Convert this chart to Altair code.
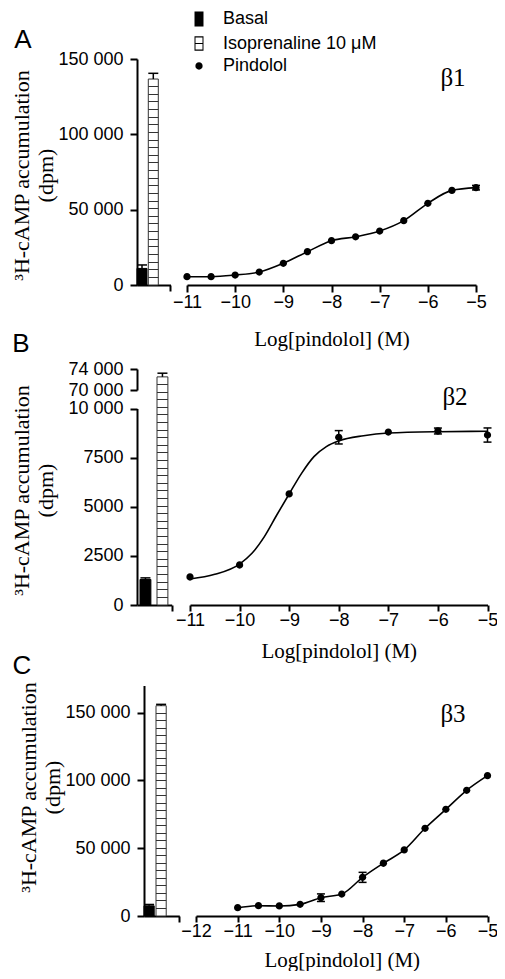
import altair as alt
import numpy as np
import pandas as pd

# ---------------- values ----------------
BAR_CATS = ["Basal", "Isoprenaline 10 μM"]
LEGEND_LABELS = ["Basal", "Isoprenaline 10 μM", "Pindolol"]
PANEL_LETTERS = ["A", "B", "C"]
RECEPTORS = ["β1", "β2", "β3"]
X_TITLE = "Log[pindolol] (M)"
Y_TITLE = ["³H-cAMP accumulation", "(dpm)"]

A_BAR_VALUES = [11000, 136700]
A_BAR_ERRS = [2300, 3800]
A_LOG_X = [-11, -10.5, -10, -9.5, -9, -8.5, -8, -7.5, -7, -6.5, -6, -5.5, -5]
A_VALUES = [5500, 5500, 6600, 8600, 14400, 22100, 29400, 32000, 35800, 42700, 54200, 62800, 64600]
A_ERRS = [0, 0, 0, 0, 0, 0, 0, 0, 0, 0, 0, 0, 1500]
A_Y_TICKS = [0, 50000, 100000, 150000]
A_X_TICKS = [-11, -10, -9, -8, -7, -6, -5]

B_BAR_VALUES = [1300, 72500]
B_BAR_ERRS = [80, 700]
B_LOG_X = [-11, -10, -9, -8, -7, -6, -5]
B_VALUES = [1425, 2035, 5650, 8535, 8800, 8855, 8650]
B_ERRS = [0, 0, 0, 340, 0, 150, 360]
B_FIT_X = [-11, -10.5, -10, -9.75, -9.5, -9.25, -9, -8.75, -8.5, -8.25, -8, -7.5, -7, -6, -5]
B_FIT_Y = [1325, 1560, 2085, 2630, 3480, 4580, 5650, 6700, 7550, 8060, 8350, 8615, 8750, 8820, 8840]
B_Y_TICKS_LOW = [0, 2500, 5000, 7500, 10000]
B_Y_TICKS_HIGH = [70000, 74000]
B_X_TICKS = [-11, -10, -9, -8, -7, -6, -5]

C_BAR_VALUES = [7500, 155100]
C_BAR_ERRS = [1000, 1000]
C_LOG_X = [-11, -10.5, -10, -9.5, -9, -8.5, -8, -7.5, -7, -6.5, -6, -5.5, -5]
C_VALUES = [6100, 7600, 7400, 8600, 13500, 16200, 28500, 38900, 48700, 64700, 78700, 92700, 103500]
C_ERRS = [0, 0, 0, 0, 2800, 0, 3700, 0, 0, 0, 0, 0, 0]
C_Y_TICKS = [0, 50000, 100000, 150000]
C_X_TICKS = [-12, -11, -10, -9, -8, -7, -6, -5]

# ---------------- layout / style ----------------
W, H = 489, 963
SANS = "Liberation Sans"
SERIF = "Liberation Serif"

LAYOUT = {
    "A": dict(axis_x=129, base_y=277,
              bar_range=[129, 162.5], bar_pi=0.115, bar_po=0.54, bar_align=0.0, end_tick=12.2,
              x_domain=[-11, -5], x_range=[179, 468],
              y_domain=[0, 150000], y_range=[277, 51],
              x_tick=7, x_pad=1, x_title_y=54, y_title_y=167,
              beta_xy=(445, 70), letter_xy=(15, 32)),
    "B": dict(axis_x=129, base_y=597,
              bar_range=[129, 163.7], bar_pi=0.36, bar_po=0.2, bar_align=0.44, end_tick=3.8,
              x_domain=[-11, -5], x_range=[182, 479.5],
              y_domain=[0, 10000], y_range=[597, 400.5],
              y_domain_high=[70000, 74000], y_range_high=[382, 361],
              x_tick=6, x_pad=0, x_title_y=46, y_title_y=482,
              beta_xy=(447, 389), letter_xy=(13, 336)),
    "C": dict(axis_x=136, base_y=908,
              bar_range=[136, 171.3], bar_pi=0.15, bar_po=0.545, bar_align=0.0, end_tick=13.1,
              x_domain=[-12, -5], x_range=[188, 479.5],
              y_domain=[0, 170000], y_range=[908, 677.5],
              x_tick=6, x_pad=0, x_title_y=44, y_title_y=779,
              beta_xy=(445, 706), letter_xy=(14, 658)),
}

# legend symbols drawn as filled outlines (unit coordinates, scaled by the mark size)
BASAL_PATH = "M-0.58,-0.97H0.58V0.97H-0.58Z"
ISO_PATH = ("M-0.58,-0.92H0.58V0.92H-0.58Z"
            "M-0.45,-0.79V-0.065H0.45V-0.79Z"
            "M-0.45,0.065V0.79H0.45V0.065Z")
DOT_PATH = "M0.47,0A0.47,0.47 0 1,1 -0.47,0A0.47,0.47 0 1,1 0.47,0Z"
LEGEND_SHAPES = [BASAL_PATH, ISO_PATH, DOT_PATH]
SYMBOL_SIZE = 240

Y_LABEL_EXPR = ("datum.value >= 10000 ? replace(format(datum.value, ','), ',', ' ')"
                " : format(datum.value, 'd')")


def qscale(domain, rng):
    return alt.Scale(domain=list(domain), range=list(rng), zero=False, nice=False)


def band_scale(cfg):
    return alt.Scale(domain=BAR_CATS, range=cfg["bar_range"], paddingInner=cfg["bar_pi"],
                     paddingOuter=cfg["bar_po"], align=cfg["bar_align"], round=False)


def axis_style(**kw):
    base = dict(grid=False, domainColor="black", domainWidth=2, tickColor="black", tickWidth=2,
                labelColor="black", labelFont=SANS, labelFontSize=18, labelFlush=False,
                labelOverlap=False, titleColor="black", titleFont=SERIF, titleFontSize=21,
                titleFontWeight="normal")
    base.update(kw)
    return alt.Axis(**base)


def y_axis(cfg, values, with_title):
    kw = dict(orient="left", offset=-cfg["axis_x"], values=values, tickSize=7,
              labelPadding=7, labelExpr=Y_LABEL_EXPR)
    if with_title:
        kw.update(title=Y_TITLE, titleFontSize=22, titleAngle=270, titleAlign="center",
                  titleBaseline="alphabetic", titleX=-109, titleY=cfg["y_title_y"],
                  titleLineHeight=24)
    else:
        kw["title"] = ""
    return axis_style(**kw)


def x_axis(cfg, values):
    return axis_style(orient="bottom", offset=cfg["base_y"] - H, values=values, format="d",
                      tickSize=cfg["x_tick"], labelPadding=cfg["x_pad"], title=X_TITLE,
                      titleY=cfg["x_title_y"], titleBaseline="middle")


def bar_axis(cfg):
    return axis_style(orient="bottom", offset=cfg["base_y"] - H, values=[BAR_CATS[1]],
                      bandPosition=1, tickOffset=cfg["end_tick"], labels=False, title="",
                      tickSize=6)


def stripes(height_px, spacing=7.5, color="#333333"):
    n = max(2, int(round(height_px / spacing)))
    w = 1.0 / height_px
    stops = [{"offset": 0, "color": "white"}]
    for k in range(1, n):
        t = k / n
        stops += [{"offset": t - w / 2, "color": "white"}, {"offset": t - w / 2, "color": color},
                  {"offset": t + w / 2, "color": color}, {"offset": t + w / 2, "color": "white"}]
    stops.append({"offset": 1, "color": "white"})
    return {"gradient": "linear", "x1": 0, "y1": 0, "x2": 0, "y2": 1, "stops": stops}


def text_layer(txt, xy, font, size):
    return alt.Chart(pd.DataFrame({"t": [txt]})).mark_text(
        font=font, fontSize=size, color="black", align="center", baseline="middle"
    ).encode(x=alt.value(xy[0]), y=alt.value(xy[1]), text="t:N")


def panel_layers(key, bar_vals, bar_errs, log_x, vals, errs, y_ticks, x_ticks, letter, receptor,
                 fit_x=None, fit_y=None, y_ticks_high=None, legend=False):
    cfg = LAYOUT[key]
    bars = pd.DataFrame({"cat": BAR_CATS, "value": bar_vals, "err": bar_errs})
    pts = pd.DataFrame({"logx": log_x, "value": vals, "err": errs,
                        "series": [LEGEND_LABELS[2]] * len(log_x)})
    fit = pts if fit_x is None else pd.DataFrame({"logx": fit_x, "value": fit_y})

    y_low = qscale(cfg["y_domain"], cfg["y_range"])
    if "y_domain_high" in cfg:
        dom_iso = cfg["y_domain"] + cfg["y_domain_high"]
        rng_iso = cfg["y_range"] + cfg["y_range_high"]
        y_high = qscale(cfg["y_domain_high"], cfg["y_range_high"])
    else:
        dom_iso, rng_iso = cfg["y_domain"], cfg["y_range"]
        y_high = y_low
    y_iso = qscale(dom_iso, rng_iso)
    iso_top = float(np.interp(bar_vals[1], dom_iso, rng_iso))
    iso_h = cfg["base_y"] - iso_top

    xq = qscale(cfg["x_domain"], cfg["x_range"])
    layers = []

    # basal bar (carries the y axis and the short axis under the bars)
    layers.append(alt.Chart(bars).transform_filter(alt.datum.cat == BAR_CATS[0]).mark_bar(
        fill="black", stroke="black", strokeWidth=1, opacity=1
    ).encode(
        x=alt.X("cat:N", scale=band_scale(cfg), axis=bar_axis(cfg)),
        y=alt.Y("value:Q", scale=y_low, axis=y_axis(cfg, y_ticks, True), stack=None),
    ))
    # isoprenaline bar (hatched)
    layers.append(alt.Chart(bars).transform_filter(alt.datum.cat == BAR_CATS[1]).mark_bar(
        fill=stripes(iso_h), stroke="#333333", strokeWidth=1, opacity=1
    ).encode(
        x=alt.X("cat:N", scale=band_scale(cfg), axis=None),
        y=alt.Y("value:Q", scale=y_iso, axis=None, stack=None),
    ))
    # bar error bars
    for i, cat in enumerate(BAR_CATS):
        ys = y_low if i == 0 else y_high
        ax = y_axis(cfg, y_ticks_high, False) if (i == 1 and y_ticks_high) else None
        base = alt.Chart(bars).transform_filter(alt.datum.cat == cat).transform_calculate(
            hi="datum.value + datum.err")
        layers.append(base.mark_rule(color="black", strokeWidth=1.5, opacity=1).encode(
            x=alt.X("cat:N", scale=band_scale(cfg), axis=None),
            y=alt.Y("value:Q", scale=ys, axis=ax),
            y2="hi:Q",
        ))
        layers.append(base.mark_tick(orient="horizontal", color="black", size=10, thickness=1.5,
                                     opacity=1).encode(
            x=alt.X("cat:N", scale=band_scale(cfg), axis=None),
            y=alt.Y("hi:Q", scale=ys, axis=None),
        ))

    # fitted curve (carries the log-concentration axis)
    layers.append(alt.Chart(fit).mark_line(color="black", strokeWidth=1.6, interpolate="monotone",
                                           opacity=1).encode(
        x=alt.X("logx:Q", scale=xq, axis=x_axis(cfg, x_ticks)),
        y=alt.Y("value:Q", scale=y_low, axis=None),
    ))

    # point error bars
    perr = alt.Chart(pts).transform_filter("datum.err > 0").transform_calculate(
        lo="datum.value - datum.err", hi="datum.value + datum.err")
    layers.append(perr.mark_rule(color="black", strokeWidth=1.5, opacity=1).encode(
        x=alt.X("logx:Q", scale=xq, axis=None),
        y=alt.Y("lo:Q", scale=y_low, axis=None),
        y2="hi:Q",
    ))
    layers.append(perr.transform_fold(["lo", "hi"], as_=["end", "yv"]).mark_tick(
        orient="horizontal", color="black", size=8, thickness=1.5, opacity=1
    ).encode(
        x=alt.X("logx:Q", scale=xq, axis=None),
        y=alt.Y("yv:Q", scale=y_low, axis=None),
    ))

    # data points
    if legend:
        leg = alt.Legend(title=None, orient="none", legendX=182, legendY=2, labelFont=SANS,
                         labelFontSize=18, labelColor="black", symbolSize=SYMBOL_SIZE,
                         symbolFillColor="black", rowPadding=2.5, labelOffset=15)
        layers.append(alt.Chart(pts).mark_point(filled=True, color="black", opacity=1,
                                                size=SYMBOL_SIZE).encode(
            x=alt.X("logx:Q", scale=xq, axis=None),
            y=alt.Y("value:Q", scale=y_low, axis=None),
            shape=alt.Shape("series:N", scale=alt.Scale(domain=LEGEND_LABELS, range=LEGEND_SHAPES),
                            legend=leg),
        ))
    else:
        layers.append(alt.Chart(pts).mark_point(filled=True, shape=DOT_PATH, color="black",
                                                opacity=1, size=SYMBOL_SIZE).encode(
            x=alt.X("logx:Q", scale=xq, axis=None),
            y=alt.Y("value:Q", scale=y_low, axis=None),
        ))

    layers.append(text_layer(receptor, cfg["beta_xy"], SERIF, 25))
    layers.append(text_layer(letter, cfg["letter_xy"], SANS, 26))
    return layers


layers = []
layers += panel_layers("A", A_BAR_VALUES, A_BAR_ERRS, A_LOG_X, A_VALUES, A_ERRS, A_Y_TICKS,
                       A_X_TICKS, PANEL_LETTERS[0], RECEPTORS[0], legend=True)
layers += panel_layers("B", B_BAR_VALUES, B_BAR_ERRS, B_LOG_X, B_VALUES, B_ERRS, B_Y_TICKS_LOW,
                       B_X_TICKS, PANEL_LETTERS[1], RECEPTORS[1], fit_x=B_FIT_X, fit_y=B_FIT_Y,
                       y_ticks_high=B_Y_TICKS_HIGH)
layers += panel_layers("C", C_BAR_VALUES, C_BAR_ERRS, C_LOG_X, C_VALUES, C_ERRS, C_Y_TICKS,
                       C_X_TICKS, PANEL_LETTERS[2], RECEPTORS[2])

chart = alt.layer(*layers).resolve_scale(
    x="independent", y="independent"
).properties(
    width=W, height=H, padding=0, autosize=alt.AutoSizeParams(type="none")
).configure_view(strokeWidth=0)

chart.save("out.html", embed_options={"renderer": "svg", "actions": False})
